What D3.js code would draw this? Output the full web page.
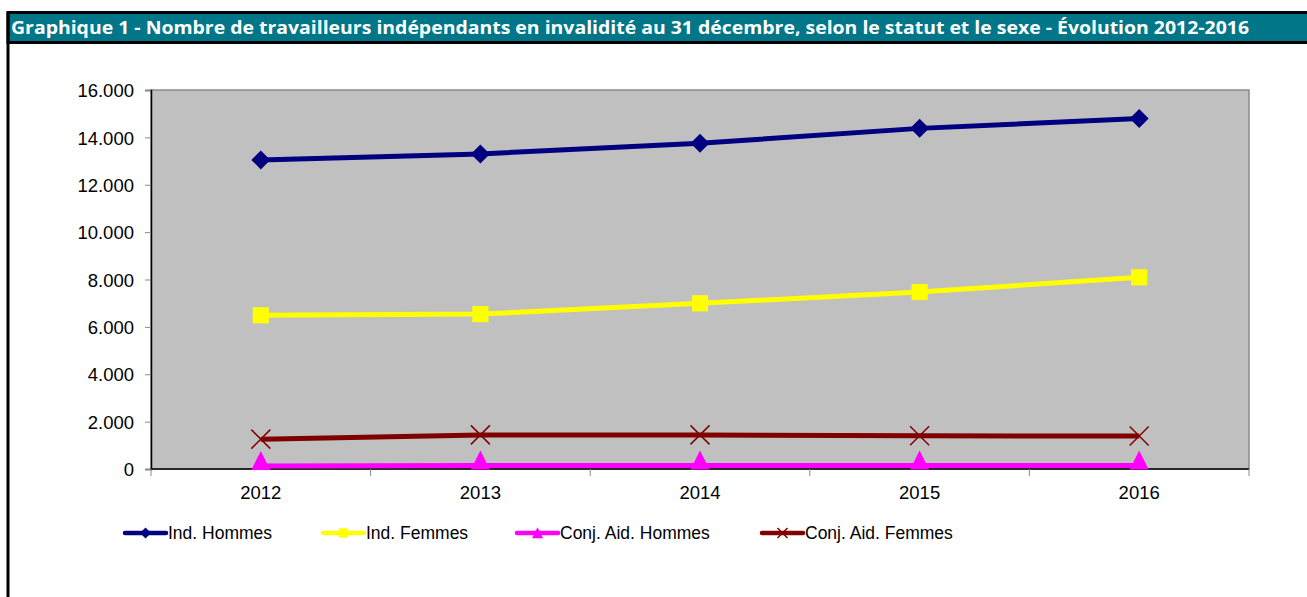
<!DOCTYPE html>
<html>
<head>
    <meta charset="utf-8">
    <script src="https://d3js.org/d3.v7.min.js"></script>
    <style>
        body { margin: 0; background: #fff; }
    </style>
</head>
<body>
    <div id="chart"></div>
    <script>
        // data
        const years = ["2012", "2013", "2014", "2015", "2016"];
        const indHommes = [13050, 13300, 13750, 14380, 14800];
        const indFemmes = [6490, 6540, 6995, 7470, 8090];
        const conjHommes = [130, 150, 150, 150, 150];
        const conjFemmes = [1260, 1440, 1440, 1400, 1390];
        const yTicks = [0, 2000, 4000, 6000, 8000, 10000, 12000, 14000, 16000];
        const seriesNames = ["Ind. Hommes", "Ind. Femmes", "Conj. Aid. Hommes", "Conj. Aid. Femmes"];

        function program() {
            const W = 1307, H = 597;
            const svg = d3.select("#chart").append("svg")
                .attr("width", W).attr("height", H);

            // title bar
            svg.append("rect")
                .attr("x", 8).attr("y", 12.5)
                .attr("width", W).attr("height", 30)
                .attr("fill", "#007688")
                .attr("stroke", "#000").attr("stroke-width", 3);
            svg.append("line")
                .attr("x1", 8).attr("x2", 8).attr("y1", 12).attr("y2", H)
                .attr("stroke", "#000").attr("stroke-width", 3);
            svg.append("text")
                .attr("x", 11).attr("y", 34)
                .attr("fill", "#fff")
                .attr("font-family", "Open Sans, sans-serif")
                .attr("font-weight", 700)
                .attr("font-size", 17)
                .attr("textLength", 1238)
                .attr("lengthAdjust", "spacingAndGlyphs")
                .text("Graphique 1 - Nombre de travailleurs indépendants en invalidité au 31 décembre, selon le statut et le sexe - Évolution 2012-2016");

            const pLeft = 151, pRight = 1249, pTop = 90, pBottom = 469;

            const x = d3.scaleBand().domain(years).range([pLeft, pRight]);
            const y = d3.scaleLinear().domain([0, 16000]).range([pBottom, pTop]);

            // plot area
            svg.append("rect")
                .attr("x", pLeft).attr("y", pTop)
                .attr("width", pRight - pLeft).attr("height", pBottom - pTop)
                .attr("fill", "#c0c0c0")
                .attr("stroke", "#8a8a8a").attr("stroke-width", 1.5);

            const fmt = d => d === 0 ? "0" : d3.format(",")(d).replace(",", ".");

            // y axis
            const yAxis = svg.append("g")
                .attr("transform", "translate(" + pLeft + ",0)")
                .call(d3.axisLeft(y).tickValues(yTicks).tickSize(6).tickFormat(fmt));
            yAxis.select(".domain").attr("stroke", "#000").attr("stroke-width", 1.5);
            yAxis.selectAll(".tick line").attr("stroke", "#888");
            yAxis.selectAll("text")
                .attr("font-family", "Liberation Sans, Arial, sans-serif")
                .attr("font-size", 18.5).attr("fill", "#000")
                .attr("x", -17).attr("dy", "0.36em");

            // x axis with ticks at band boundaries
            const xAxis = svg.append("g")
                .attr("transform", "translate(0," + pBottom + ")");
            xAxis.append("line")
                .attr("x1", pLeft).attr("x2", pRight)
                .attr("stroke", "#000").attr("stroke-width", 1.5);
            xAxis.selectAll(".bt")
                .data(years.concat(["end"]))
                .join("line")
                .attr("x1", (d, i) => pLeft + i * x.step())
                .attr("x2", (d, i) => pLeft + i * x.step())
                .attr("y1", 0).attr("y2", 7)
                .attr("stroke", "#888");
            xAxis.selectAll(".lbl")
                .data(years)
                .join("text")
                .attr("x", d => x(d) + x.bandwidth() / 2)
                .attr("y", 30)
                .attr("text-anchor", "middle")
                .attr("font-family", "Liberation Sans, Arial, sans-serif")
                .attr("font-size", 18.5)
                .text(d => d);

            const series = [
                { name: seriesNames[0], values: indHommes, color: "#000080", marker: "diamond" },
                { name: seriesNames[1], values: indFemmes, color: "#ffff00", marker: "square" },
                { name: seriesNames[2], values: conjHommes, color: "#ff00ff", marker: "triangle" },
                { name: seriesNames[3], values: conjFemmes, color: "#800000", marker: "cross" }
            ];

            const cx = d => x(d) + x.bandwidth() / 2;

            function drawMarker(g, type, color, size) {
                if (type === "diamond") {
                    g.append("path").attr("d", `M0,${-size}L${size},0L0,${size}L${-size},0Z`).attr("fill", color);
                } else if (type === "square") {
                    g.append("rect").attr("x", -size * 0.85).attr("y", -size * 0.85)
                        .attr("width", size * 1.7).attr("height", size * 1.7).attr("fill", color);
                } else if (type === "triangle") {
                    g.append("path").attr("d", `M0,${-size * 1.05}L${size},${size * 0.95}L${-size},${size * 0.95}Z`).attr("fill", color);
                } else {
                    g.append("path").attr("d", `M${-size},${-size}L${size},${size}M${size},${-size}L${-size},${size}`)
                        .attr("stroke", color).attr("stroke-width", 1.5).attr("fill", "none");
                }
            }

            const line = d3.line().x((d, i) => cx(years[i])).y(d => y(d));

            series.forEach(s => {
                svg.append("path")
                    .datum(s.values)
                    .attr("d", line)
                    .attr("fill", "none")
                    .attr("stroke", s.color)
                    .attr("stroke-width", 5);
            });
            series.forEach(s => {
                s.values.forEach((v, i) => {
                    let yy = y(v);
                    if (s.marker === "triangle") yy = yy - 5;
                    const g = svg.append("g").attr("transform", `translate(${cx(years[i])},${yy})`);
                    drawMarker(g, s.marker, s.color, 9.5);
                });
            });

            // legend
            const legendX = [125, 323, 517, 762];
            const legend = svg.append("g").attr("transform", "translate(0,533)");
            series.forEach((s, i) => {
                const g = legend.append("g").attr("transform", `translate(${legendX[i]},0)`);
                g.append("line").attr("x1", 0).attr("x2", 41)
                    .attr("stroke", s.color).attr("stroke-width", 4.5).attr("stroke-linecap", "round");
                const m = g.append("g").attr("transform", "translate(20.5,0)");
                drawMarker(m, s.marker, s.color, s.marker === "cross" ? 5 : 5.5);
                g.append("text")
                    .attr("x", 43).attr("y", 6)
                    .attr("font-family", "Liberation Sans, Arial, sans-serif")
                    .attr("font-size", 17.5)
                    .text(s.name);
            });
        }

        program();
    </script>
</body>
</html>
